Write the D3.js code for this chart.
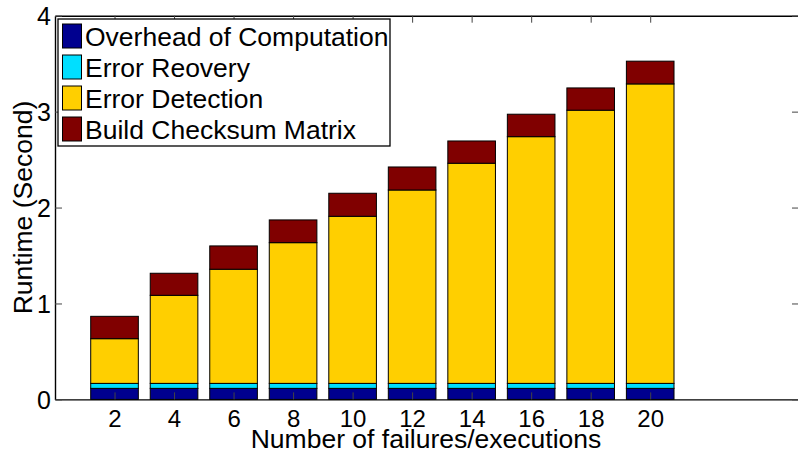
<!DOCTYPE html>
<html>
<head>
<meta charset="utf-8">
<script src="https://cdn.jsdelivr.net/npm/d3@7"></script>
<style>
  body { margin: 0; background: #fff; }
  svg { display: block; font-family: "Liberation Sans", Arial, Helvetica, sans-serif; }
</style>
</head>
<body>
<div id="chart"></div>
<script>
// values (seconds)
const failures = [2, 4, 6, 8, 10, 12, 14, 16, 18, 20];
const overhead = [0.115, 0.115, 0.115, 0.115, 0.115, 0.115, 0.115, 0.115, 0.115, 0.115];
const recovery = [0.052, 0.052, 0.052, 0.052, 0.052, 0.052, 0.052, 0.052, 0.052, 0.052];
const detection = [0.466, 0.918, 1.19, 1.467, 1.742, 2.016, 2.295, 2.572, 2.848, 3.122];
const checksum = [0.233, 0.23, 0.243, 0.237, 0.24, 0.24, 0.232, 0.234, 0.232, 0.237];

const seriesNames = ["Overhead of Computation", "Error Reovery", "Error Detection", "Build Checksum Matrix"];
const seriesKeys = ["overhead", "recovery", "detection", "checksum"];
const colors = ["#00008f", "#00dfff", "#ffcf00", "#800000"];
const yTicks = [0, 1, 2, 3, 4];

const width = 798, height = 451;
const margin = {left: 55, right: -1, top: 15.7, bottom: 51.6};
const innerW = width - margin.left - margin.right;
const innerH = height - margin.top - margin.bottom;

const rows = failures.map((f, i) => ({
  f: f,
  overhead: overhead[i],
  recovery: recovery[i],
  detection: detection[i],
  checksum: checksum[i]
}));

const stacked = d3.stack().keys(seriesKeys)(rows);

const x = d3.scaleLinear().domain([0, 25]).range([0, innerW]);
const y = d3.scaleLinear().domain([0, 4]).range([innerH, 0]);
const barW = x(1.6) - x(0);

const svg = d3.select("#chart").append("svg")
  .attr("width", width)
  .attr("height", height);

const g = svg.append("g")
  .attr("transform", `translate(${margin.left},${margin.top})`);

// bars
g.append("g")
  .selectAll("g")
  .data(stacked)
  .join("g")
  .attr("fill", (d, i) => colors[i])
  .selectAll("rect")
  .data(d => d)
  .join("rect")
  .attr("x", d => x(d.data.f) - barW / 2)
  .attr("y", d => y(d[1]))
  .attr("width", barW)
  .attr("height", d => y(d[0]) - y(d[1]))
  .attr("stroke", "#000")
  .attr("stroke-width", 1);

// axes with inward ticks
const tickLen = 7;
const fmt = d3.format("d");
const xAxisBottom = g.append("g")
  .attr("transform", `translate(0,${innerH})`)
  .call(d3.axisBottom(x).tickValues(failures).tickSize(-tickLen).tickFormat(fmt).tickSizeOuter(0));
const xAxisTop = g.append("g")
  .call(d3.axisTop(x).tickValues(failures).tickSize(-tickLen).tickFormat("").tickSizeOuter(0));
const yAxisLeft = g.append("g")
  .call(d3.axisLeft(y).tickValues(yTicks).tickSize(-tickLen).tickFormat(fmt).tickSizeOuter(0));
const yAxisRight = g.append("g")
  .attr("transform", `translate(${innerW},0)`)
  .call(d3.axisRight(y).tickValues(yTicks).tickSize(-tickLen).tickFormat("").tickSizeOuter(0));

[xAxisBottom, xAxisTop, yAxisLeft, yAxisRight].forEach(a => {
  a.select(".domain").attr("stroke", "#000").attr("stroke-width", 1.4);
  a.selectAll(".tick line").attr("stroke", "#444");
  a.selectAll("text").attr("fill", "#000").style("font-size", "24px").style("font-family", "Liberation Sans, Arial, sans-serif");
});
xAxisBottom.selectAll("text").attr("y", 27.3).attr("dy", 0);
yAxisLeft.selectAll("text").attr("x", -4).attr("dy", "0.35em").style("font-size", "25px");

// axis labels
svg.append("text")
  .attr("x", margin.left + innerW / 2 - 1)
  .attr("y", 447.5)
  .attr("text-anchor", "middle")
  .style("font-size", "26.5px")
  .text("Number of failures/executions");

svg.append("text")
  .attr("transform", `translate(32,${margin.top + innerH / 2}) rotate(-90)`)
  .attr("text-anchor", "middle")
  .style("font-size", "26.5px")
  .text("Runtime (Second)");

// legend
const legend = svg.append("g").attr("transform", "translate(58,19)");
legend.append("rect")
  .attr("width", 332)
  .attr("height", 127)
  .attr("fill", "#fff")
  .attr("stroke", "#000")
  .attr("stroke-width", 1.3);

const item = legend.selectAll("g.item")
  .data(seriesNames)
  .join("g")
  .attr("class", "item")
  .attr("transform", (d, i) => `translate(0,${5 + i * 31})`);

item.append("rect")
  .attr("x", 4.5)
  .attr("y", 0)
  .attr("width", 19)
  .attr("height", 24)
  .attr("fill", (d, i) => colors[i])
  .attr("stroke", "#000")
  .attr("stroke-width", 1);

item.append("text")
  .attr("x", 27)
  .attr("y", 21.5)
  .style("font-size", "26.5px")
  .text(d => d);
</script>
</body>
</html>
